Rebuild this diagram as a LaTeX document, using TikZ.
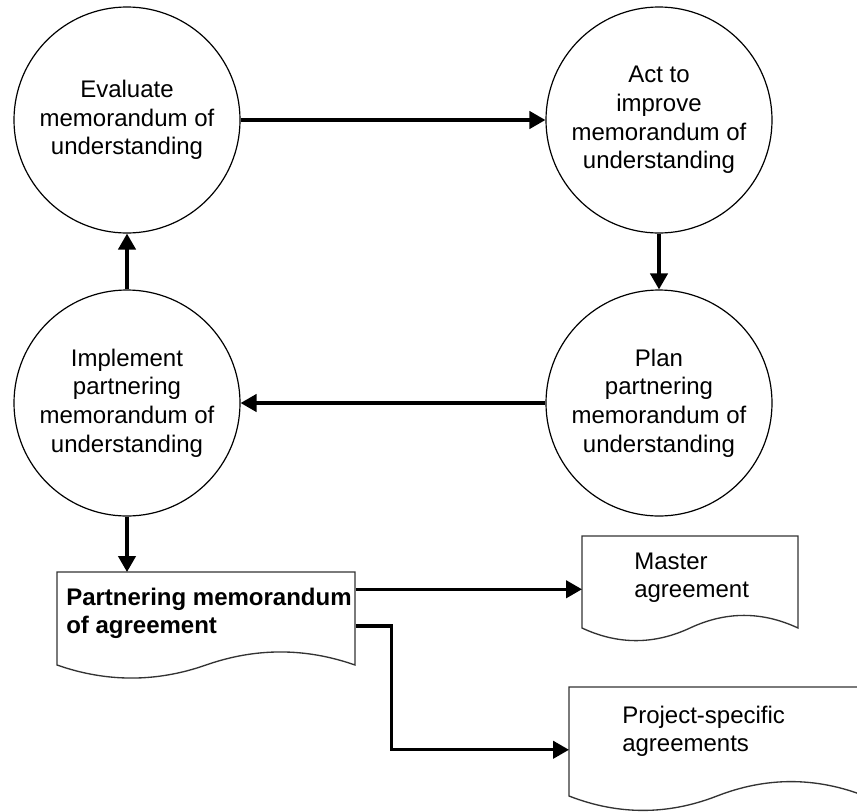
\documentclass[tikz,border=0pt]{standalone}
\usepackage{fontspec}
\setmainfont{Liberation Sans}
\usetikzlibrary{arrows.meta,calc}
\tikzset{
  proc/.style={circle, draw=black, line width=0.9pt, minimum size=169.5pt, inner sep=0pt,
    align=center, font=\fontsize{18pt}{21.4pt}\selectfont},
  flow/.style={line width=2.5pt, -{Triangle[length=12pt,width=13pt]}},
  docbox/.style={rectangle, draw=none, inner sep=0pt, anchor=north west},
  doctext/.style={inner sep=0pt, anchor=north west, align=left,
    font=\fontsize{18pt}{21pt}\selectfont},
  docline/.style={draw=black!80, line width=1pt, fill=white}
}
\newcommand\docoutline[4]{%
  \draw[docline] (#1.north west) -- ($(#1.north west)+(#2,0)$)
    -- ($(#1.north west)+(#2,{#3-#4/2})$)
    .. controls ($(#1.north west)+({5*#2/6},{#3-1.1*#4})$) and ($(#1.north west)+({2*#2/3},{#3-1.1*#4})$)
    .. ($(#1.north west)+({#2/2},{#3-#4/2})$)
    .. controls ($(#1.north west)+({#2/3},{#3+0.1*#4})$) and ($(#1.north west)+({#2/6},{#3+0.1*#4})$)
    .. ($(#1.north west)+(0,{#3-#4/2})$) -- cycle;}
\begin{document}
\begin{tikzpicture}[x=0.75pt,y=-0.75pt]
\useasboundingbox (0,0) rectangle (857,811);
\clip (0,0) rectangle (857,811);
% circles
\node[proc] (eval) at (127,120) {Evaluate\\memorandum of\\understanding};
\node[proc] (act)  at (659,120) {Act to\\improve\\memorandum of\\understanding};
\node[proc] (impl) at (127,403) {Implement\\partnering\\memorandum of\\understanding};
\node[proc] (plan) at (659,403) {Plan\\partnering\\memorandum of\\understanding};
% documents
\node[docbox, minimum width=223.5pt, minimum height=80.6pt] (pma) at (57,572) {};
\node[docbox, minimum width=162pt, minimum height=79.5pt] (master) at (582,536) {};
\node[docbox, minimum width=222pt, minimum height=93.75pt] (psa) at (569,687) {};
\docoutline{pma}{298}{107.5}{29}
\docoutline{master}{216}{106}{28}
\docoutline{psa}{296}{125}{32}
\node[doctext, font=\fontsize{18pt}{21pt}\selectfont\bfseries] (pmatext) at ($(pma.north west)+(9,15.5)$) {Partnering memorandum\\of agreement};
\node[doctext] (mastertext) at ($(master.north west)+(52,16.5)$) {Master\\agreement};
\node[doctext] (psatext) at ($(psa.north west)+(53,19)$) {Project-specific\\agreements};
% connectors
\draw[flow] (eval.east) -- (act.west);
\draw[flow] (act.south) -- (plan.north);
\draw[flow] (plan.west) -- (impl.east);
\draw[flow] (impl.north) -- (eval.south);
\draw[flow] (impl.south) -- (impl.south |- pma.north);
\draw[flow] (pma.east |- master.west) -- (master.west);
\draw[flow] (pma.east) -- ++(36,0) |- (psa.west);
\end{tikzpicture}
\end{document}
